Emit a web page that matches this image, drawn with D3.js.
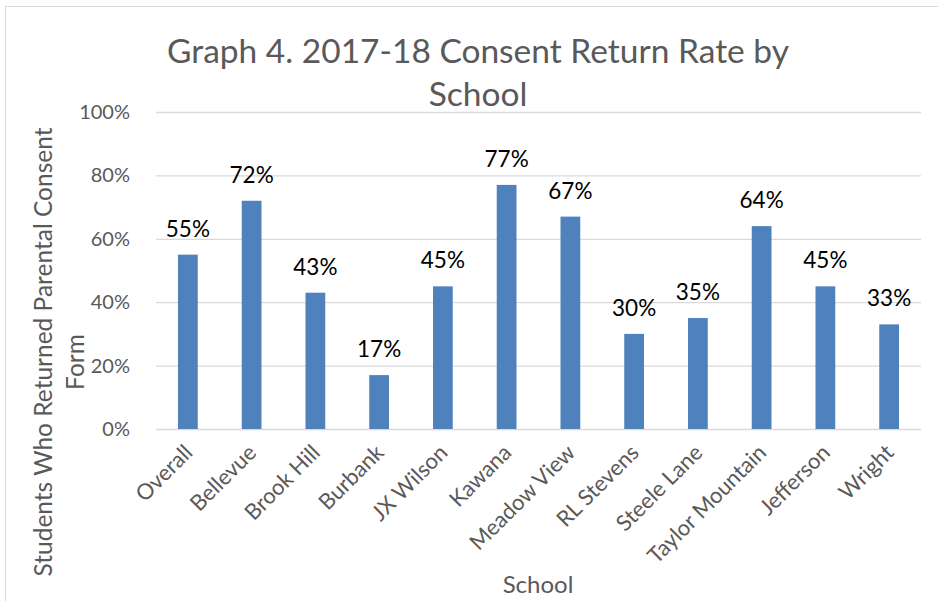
<!DOCTYPE html>
<html>
<head>
<meta charset="utf-8">
<script src="https://cdn.jsdelivr.net/npm/d3@7"></script>
<style>
  body { margin: 0; background: #fff; }
  text { font-family: Lato, "Open Sans", sans-serif; }
</style>
</head>
<body>
<div id="chart"></div>
<script>
const schools = ["Overall", "Bellevue", "Brook Hill", "Burbank", "JX Wilson", "Kawana",
  "Meadow View", "RL Stevens", "Steele Lane", "Taylor Mountain", "Jefferson", "Wright"];
const rates = [0.55, 0.72, 0.43, 0.17, 0.45, 0.77, 0.67, 0.30, 0.35, 0.64, 0.45, 0.33];
const yTicks = [0, 0.2, 0.4, 0.6, 0.8, 1.0];

const W = 938, H = 601;
const M = { top: 112, right: 17, bottom: 172, left: 156 };

const svg = d3.select("#chart").append("svg")
  .attr("width", W).attr("height", H);

// chart area border
svg.append("rect")
  .attr("x", 5.5).attr("y", 6.5)
  .attr("width", W + 10).attr("height", H + 10)
  .attr("fill", "none").attr("stroke", "#d9d9d9");

const x = d3.scaleBand()
  .domain(schools)
  .range([M.left, W - M.right])
  .paddingInner(0.69).paddingOuter(0.345);

const y = d3.scaleLinear()
  .domain([0, 1])
  .range([H - M.bottom, M.top]);

// grid
svg.selectAll(".grid").data(yTicks).enter().append("line")
  .attr("x1", M.left).attr("x2", W - M.right)
  .attr("y1", d => y(d) + 0.5).attr("y2", d => y(d) + 0.5)
  .attr("stroke", "#d9d9d9").attr("stroke-width", 1.3);

// y axis labels
const yAxis = d3.axisLeft(y).tickValues(yTicks).tickFormat(d3.format(".0%")).tickSize(0).tickPadding(26);
const gy = svg.append("g").attr("transform", `translate(${M.left},0)`).call(yAxis);
gy.select(".domain").remove();
gy.selectAll("text").attr("fill", "#595959").style("font-size", "20px")
  .style("font-family", "Lato, sans-serif");

// bars
svg.selectAll(".bar").data(schools).enter().append("rect")
  .attr("x", d => x(d))
  .attr("width", x.bandwidth())
  .attr("y", (d, i) => y(rates[i]))
  .attr("height", (d, i) => y(0) - y(rates[i]))
  .attr("fill", "#4f81bd");

// data labels
svg.selectAll(".lbl").data(schools).enter().append("text")
  .attr("x", d => x(d) + x.bandwidth() / 2)
  .attr("y", (d, i) => y(rates[i]) - 18)
  .attr("text-anchor", "middle")
  .attr("fill", "#000")
  .style("font-size", "22.5px")
  .text((d, i) => Math.round(rates[i] * 100) + "%");

// x axis labels
const xAxis = d3.axisBottom(x).tickSize(0).tickPadding(0);
const gx = svg.append("g").attr("transform", `translate(0,${H - M.bottom})`).call(xAxis);
gx.select(".domain").remove();
gx.selectAll("text")
  .attr("fill", "#595959").style("font-size", "22px")
  .style("font-family", "Lato, sans-serif")
  .attr("text-anchor", "end")
  .attr("dy", null)
  .attr("transform", "translate(6,25) rotate(-45)");

// title
svg.append("text")
  .attr("x", 478).attr("y", 63)
  .attr("text-anchor", "middle").attr("fill", "#595959")
  .style("font-size", "33.5px")
  .text("Graph 4. 2017-18 Consent Return Rate by");
svg.append("text")
  .attr("x", 478).attr("y", 106)
  .attr("text-anchor", "middle").attr("fill", "#595959")
  .style("font-size", "33.5px")
  .text("School");

// axis titles
svg.append("text")
  .attr("transform", "translate(52,352) rotate(-90)")
  .attr("text-anchor", "middle").attr("fill", "#595959")
  .style("font-size", "24.5px")
  .text("Students Who Returned Parental Consent");
svg.append("text")
  .attr("transform", "translate(84,362) rotate(-90)")
  .attr("text-anchor", "middle").attr("fill", "#595959")
  .style("font-size", "24.5px")
  .text("Form");
svg.append("text")
  .attr("x", 538).attr("y", 593)
  .attr("text-anchor", "middle").attr("fill", "#595959")
  .style("font-size", "24px")
  .text("School");
</script>
</body>
</html>
